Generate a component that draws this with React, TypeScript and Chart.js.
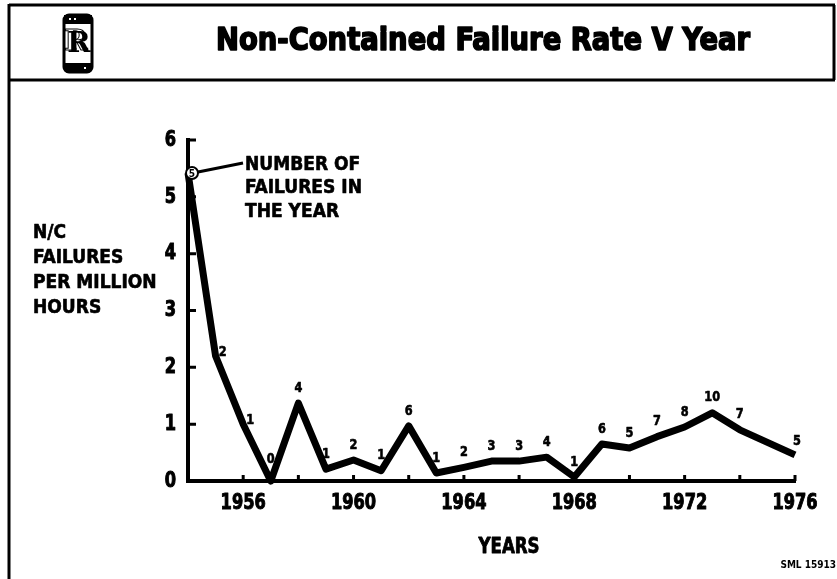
import React, { useEffect, useRef } from "react";
import { Chart, registerables } from "chart.js";

Chart.register(...registerables);

// ---- data ----
const YEARS = [1954, 1955, 1956, 1957, 1958, 1959, 1960, 1961, 1962, 1963, 1964, 1965, 1966, 1967, 1968, 1969, 1970, 1971, 1972, 1973, 1974, 1976];
const RATES = [5.42, 2.2, 1.0, 0.0, 1.37, 0.21, 0.37, 0.18, 0.97, 0.14, 0.24, 0.35, 0.35, 0.42, 0.07, 0.65, 0.58, 0.78, 0.95, 1.2, 0.9, 0.46];
const FAILURES = [5, 2, 1, 0, 4, 1, 2, 1, 6, 1, 2, 3, 3, 4, 1, 6, 5, 7, 8, 10, 7, 5];
const X_TICK_LABELS = [1956, 1960, 1964, 1968, 1972, 1976];
const Y_TICK_VALUES = [0, 1, 2, 3, 4, 5, 6];
const TITLE = "Non-Contained Failure Rate V Year";
const Y_TITLE = ["N/C", "FAILURES", "PER MILLION", "HOURS"];
const X_TITLE = "YEARS";
const NOTE = ["NUMBER OF", "FAILURES IN", "THE YEAR"];
const REF_CODE = "SML 15913";

const FONT = "'DejaVu Sans Condensed', 'Liberation Sans Narrow', sans-serif";

function drawText(
  ctx: CanvasRenderingContext2D,
  text: string,
  x: number,
  y: number,
  size: number,
  align: CanvasTextAlign,
  sx: number,
  stroke = 0
) {
  ctx.save();
  ctx.font = `bold ${size}px ${FONT}`;
  ctx.textAlign = align;
  ctx.textBaseline = "middle";
  ctx.translate(x, y);
  ctx.scale(sx, 1);
  ctx.fillText(text, 0, 0);
  if (stroke > 0) {
    ctx.lineWidth = stroke;
    ctx.lineJoin = "round";
    ctx.strokeText(text, 0, 0);
  }
  ctx.restore();
}

const decorPlugin = {
  id: "decor",
  afterDraw(chart: any) {
    const ctx = chart.ctx as CanvasRenderingContext2D;
    const xs = chart.scales.x;
    const ys = chart.scales.y;
    const area = chart.chartArea;
    ctx.save();
    ctx.strokeStyle = "#000";
    ctx.fillStyle = "#000";
    ctx.lineCap = "butt";

    // frame
    ctx.lineWidth = 3;
    ctx.beginPath();
    ctx.moveTo(9, 4);
    ctx.lineTo(9, 579);
    ctx.moveTo(9, 5);
    ctx.lineTo(835, 5);
    ctx.moveTo(834, 5);
    ctx.lineTo(834, 80);
    ctx.moveTo(9, 80);
    ctx.lineTo(835, 80);
    ctx.stroke();

    // logo
    const lx = 64, ly = 15, lw = 28, lh = 57;
    ctx.lineWidth = 3;
    ctx.beginPath();
    ctx.roundRect(lx, ly, lw, lh, 5);
    ctx.stroke();
    ctx.fillRect(lx, ly, lw, 9);
    ctx.beginPath();
    ctx.roundRect(lx, ly + lh - 9, lw, 9, [0, 0, 5, 5]);
    ctx.fill();
    ctx.fillStyle = "#fff";
    ctx.fillRect(lx + 20, ly + lh - 5, 2, 2);
    ctx.fillRect(lx + 5, ly + 3, 2, 2);
    ctx.fillRect(lx + 10, ly + 3, 2, 2);
    ctx.fillStyle = "#000";
    ctx.font = "bold 28px 'DejaVu Serif', serif";
    ctx.textAlign = "center";
    ctx.textBaseline = "middle";
    ctx.fillText("R", lx + lw / 2 + 1, ly + lh / 2 + 1);
    ctx.lineWidth = 1;
    ctx.strokeText("R", lx + lw / 2 - 2, ly + lh / 2 - 1);

    // title (fitted to the reference width)
    ctx.font = `bold 32px ${FONT}`;
    const tw = ctx.measureText(TITLE).width;
    drawText(ctx, TITLE, 483, 42, 32, "center", 534 / tw, 1.6);

    // y-axis title
    Y_TITLE.forEach((t, i) => drawText(ctx, t, 33, 233 + i * 25, 19, "left", 1, 0.6));

    // x-axis title
    drawText(ctx, X_TITLE, 509, 548, 21, "center", 0.88, 0.8);

    // reference code
    drawText(ctx, REF_CODE, 836, 565, 10, "right", 1, 0);

    // tick labels
    X_TICK_LABELS.forEach((v) => drawText(ctx, String(v), xs.getPixelForValue(v), 503, 22, "center", 0.82, 1));
    Y_TICK_VALUES.forEach((v) => drawText(ctx, String(v), area.left - 12, ys.getPixelForValue(v), 22, "right", 0.82, 1));

    // inward ticks
    ctx.lineWidth = 3;
    ctx.beginPath();
    Y_TICK_VALUES.forEach((v) => {
      if (v === 0) return;
      const py = ys.getPixelForValue(v);
      ctx.moveTo(area.left, py);
      ctx.lineTo(area.left + 8, py);
    });
    for (let yr = 1956; yr <= 1976; yr += 2) {
      const px = xs.getPixelForValue(yr);
      ctx.moveTo(px, area.bottom);
      ctx.lineTo(px, area.bottom - 6);
    }
    ctx.stroke();

    // point labels
    const meta = chart.getDatasetMeta(0);
    meta.data.forEach((pt: any, i: number) => {
      const label = String(FAILURES[i]);
      if (i === 0) {
        ctx.beginPath();
        ctx.fillStyle = "#fff";
        ctx.arc(pt.x + 4, pt.y, 6, 0, Math.PI * 2);
        ctx.fill();
        ctx.lineWidth = 2;
        ctx.stroke();
        ctx.fillStyle = "#000";
        drawText(ctx, label, pt.x + 4, pt.y + 1, 10, "center", 1, 0);
        return;
      }
      const prev = RATES[i - 1];
      const sPrev = (RATES[i] - prev) / (YEARS[i] - YEARS[i - 1]);
      const sNext = i + 1 < RATES.length ? (RATES[i + 1] - RATES[i]) / (YEARS[i + 1] - YEARS[i]) : sPrev;
      let dx = 0, dy = -15;
      if (sPrev < 0 && sNext < 0 && Math.min(Math.abs(sPrev), Math.abs(sNext)) > 0.9) {
        dx = 7; dy = -4;
      } else if (sPrev < 0 && sNext > 0 && RATES[i] < 0.05) {
        dy = -22;
      }
      if (i === RATES.length - 1) { dx = 2; dy = -13; }
      drawText(ctx, label, pt.x + dx, pt.y + dy, 14, "center", 0.9, 0.6);
    });

    // annotation pointer + note
    const p0 = meta.data[0];
    ctx.lineWidth = 3;
    ctx.beginPath();
    ctx.moveTo(p0.x + 10, p0.y - 1);
    ctx.lineTo(243, 163);
    ctx.stroke();
    NOTE.forEach((t, i) => drawText(ctx, t, 245, 165 + i * 23.5, 19, "left", 1, 0.6));

    ctx.restore();
  },
};

export default function App() {
  const ref = useRef<HTMLCanvasElement | null>(null);
  useEffect(() => {
    const canvas = ref.current;
    if (!canvas) return;
    const chart = new Chart(canvas, {
      type: "line",
      data: {
        datasets: [
          {
            data: YEARS.map((yr, i) => ({ x: yr, y: RATES[i] })),
            borderColor: "#000",
            borderWidth: 7,
            borderJoinStyle: "round",
            pointRadius: 0,
            tension: 0,
            clip: 10,
          },
        ],
      },
      options: {
        animation: false,
        responsive: false,
        devicePixelRatio: 1,
        layout: { padding: { left: 148, top: 140, right: 42, bottom: 0 } },
        plugins: { legend: { display: false }, tooltip: { enabled: false }, title: { display: false } },
        scales: {
          x: {
            type: "linear",
            min: 1954,
            max: 1976,
            afterBuildTicks: (s: any) => {
              s.ticks = X_TICK_LABELS.map((v) => ({ value: v }));
            },
            afterFit: (s: any) => {
              s.height = 98;
            },
            ticks: { display: false },
            grid: { display: false, drawTicks: false },
            border: { display: true, color: "#000", width: 4 },
          },
          y: {
            min: 0,
            max: 6,
            afterBuildTicks: (s: any) => {
              s.ticks = Y_TICK_VALUES.map((v) => ({ value: v }));
            },
            afterFit: (s: any) => {
              s.width = 40;
            },
            ticks: { display: false },
            grid: { display: false, drawTicks: false },
            border: { display: true, color: "#000", width: 4 },
          },
        },
      },
      plugins: [decorPlugin],
    });
    return () => chart.destroy();
  }, []);
  return (
    <div style={{ position: "absolute", left: 0, top: 0, width: 837, height: 579, background: "#fff" }}>
      <canvas ref={ref} width={837} height={579} style={{ display: "block" }} />
    </div>
  );
}
